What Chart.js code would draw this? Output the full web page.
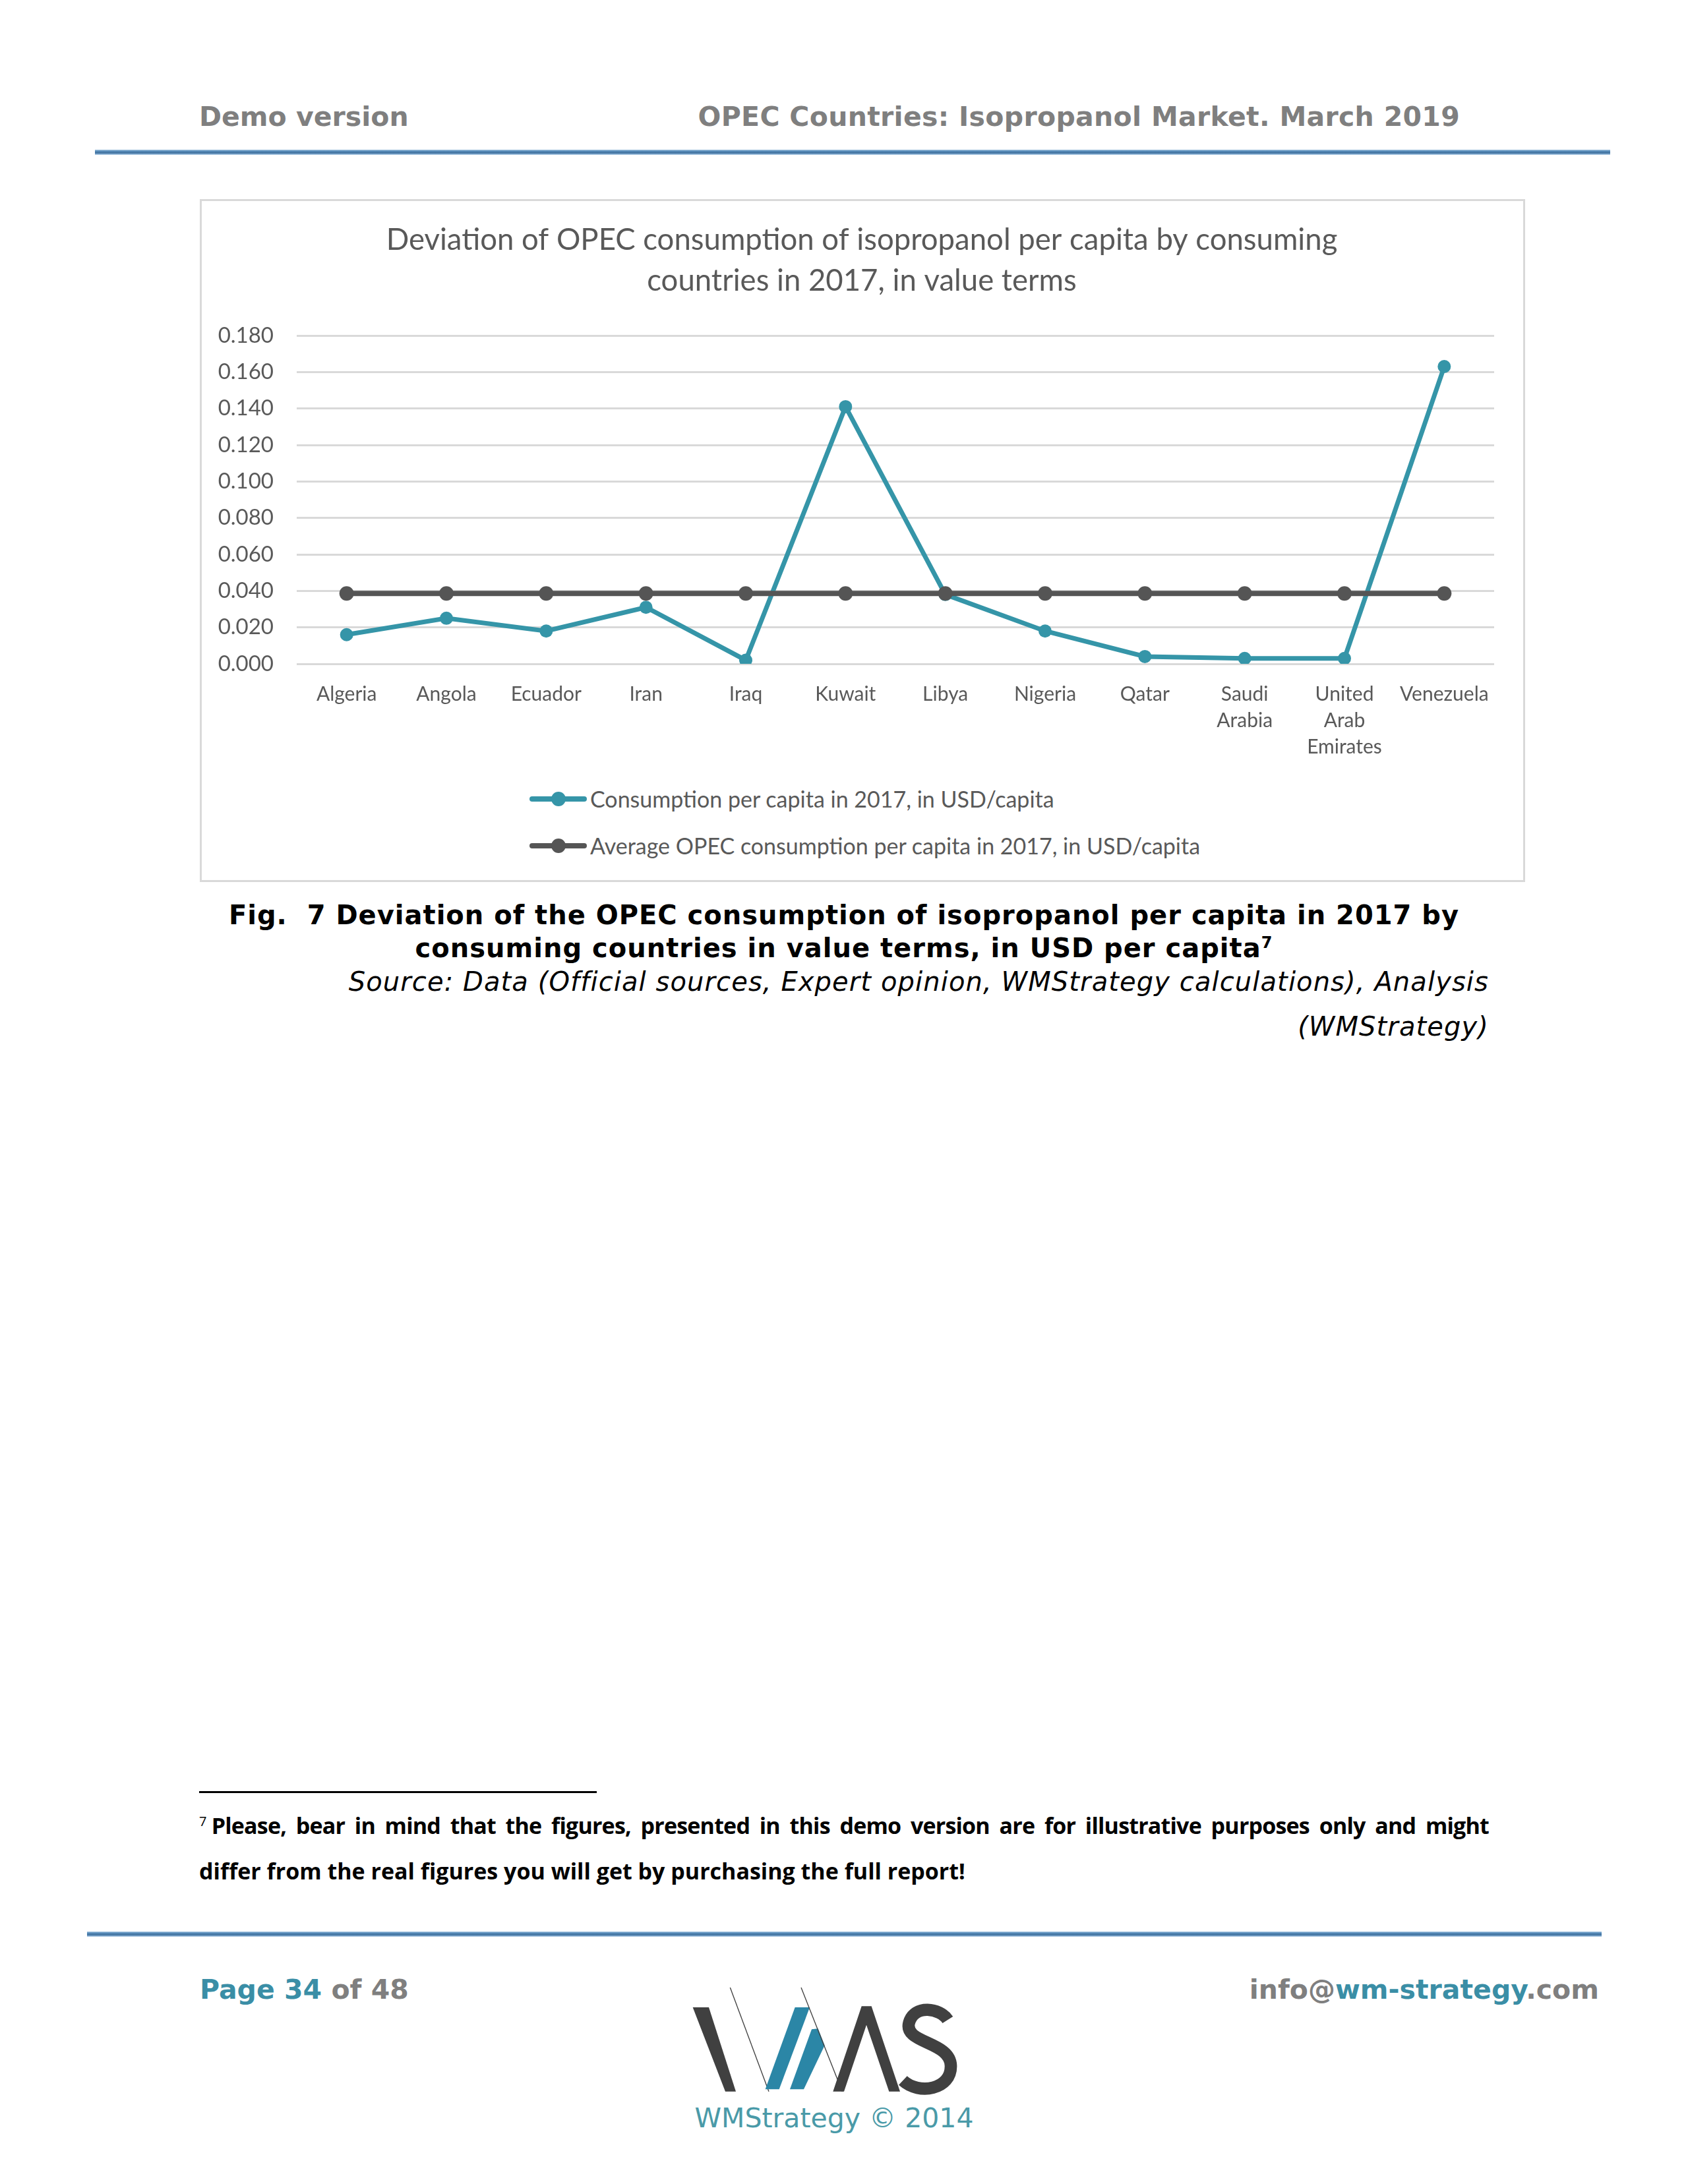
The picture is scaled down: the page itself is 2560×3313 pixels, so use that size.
<!DOCTYPE html>
<html lang="en">
<head>
    <meta charset="UTF-8">
    <title>OPEC Countries: Isopropanol Market - Fig. 7</title>
    <script src="https://cdn.jsdelivr.net/npm/chart.js"></script>
    <style>
        html, body { margin: 0; padding: 0; background: #fff; }
        body { width: 2560px; height: 3313px; position: relative; overflow: hidden; }
        .abs { position: absolute; white-space: nowrap; }
        .verdana { font-family: "DejaVu Sans", Verdana, sans-serif; }
        .rule { position: absolute; height: 8px;
            background: linear-gradient(to bottom, #b9d3e8 0%, #5a8fbd 25%, #3f709d 60%, #7fa9cf 85%, #d6e6f3 100%); }
        .hdr { top: 152px; line-height: 50px; font-size: 41px; font-weight: bold; color: #7f7f7f; }
        #chartBox { position: absolute; left: 303px; top: 302px; width: 2010px; height: 1036px;
            box-sizing: border-box; border: 3px solid #d9d9d9; }
        #chartCanvas { position: absolute; left: 306px; top: 305px; }
        #legend { position: absolute; left: 803px; top: 1176px; font-family: Lato, sans-serif;
            font-size: 34px; color: #595959; }
        #legend .row { display: flex; align-items: center; height: 71px; white-space: nowrap; }
        #legend .mark { position: relative; width: 87px; height: 22px; margin-right: 5px; }
        #legend .mark .ln { position: absolute; left: 0; top: 7px; width: 87px; height: 8px; border-radius: 4px; }
        #legend .mark .dot { position: absolute; left: 33px; top: 0; width: 22px; height: 22px; border-radius: 50%; }
        .cap { left: 0; width: 2560px; top: 1363px; line-height: 50px; text-align: center;
            font-size: 40px; letter-spacing: 1px; font-weight: bold; color: #000; }
        .cap sup { font-size: 24px; line-height: 0; }
        .src { right: 302px; top: 1455px; line-height: 68px; text-align: right; font-size: 40px;
            letter-spacing: 1.1px; font-style: italic; color: #000; }
        .note { left: 302px; width: 1956px; top: 2735px; line-height: 69px; font-family: "Open Sans", sans-serif;
            font-weight: bold; font-size: 34px; color: #000; white-space: normal; }
        .note .l1 { display: block; letter-spacing: -0.8px; text-align: justify; text-align-last: justify; }
        .note .l2 { display: block; }
        .note sup { font-size: 20px; line-height: 0; font-weight: normal; margin-right: 8px; }
        .foot { top: 2993px; line-height: 50px; font-size: 41px; font-weight: bold; color: #7f7f7f; }
        .teal { color: #3a8ea6; }
    </style>
</head>
<body>

<div class="abs verdana hdr" style="left:302px;">Demo version</div>
<div class="abs verdana hdr" style="right:346px; letter-spacing:0.3px;">OPEC Countries: Isopropanol Market. March 2019</div>
<div class="rule" style="left:144px; top:227px; width:2298px;"></div>

<div id="chartBox"></div>
<canvas id="chartCanvas" width="2004" height="852"></canvas>
<div id="legend"></div>

<div class="abs verdana cap">Fig.&nbsp; 7 Deviation of the OPEC consumption of isopropanol per capita in 2017 by<br>consuming countries in value terms, in USD per capita<sup>7</sup></div>
<div class="abs verdana src">Source: Data (Official sources, Expert opinion, WMStrategy calculations), Analysis<br>(WMStrategy)</div>

<div style="position:absolute; left:302px; top:2717px; width:603px; height:3px; background:#000;"></div>
<div class="abs note">
    <span class="l1"><sup>7</sup>Please, bear in mind that the figures, presented in this demo version are for illustrative purposes only and might</span>
    <span class="l2">differ from the real figures you will get by purchasing the full report!</span>
</div>

<div class="rule" style="left:132px; top:2930px; width:2297px;"></div>
<div class="abs verdana foot" style="left:303px;"><span class="teal">Page 34</span> of 48</div>
<div class="abs verdana foot" style="right:135px;">info@<span class="teal">wm-strategy</span>.com</div>

<svg style="position:absolute; left:1030px; top:2990px;" width="480" height="200" viewBox="0 0 1440 600">
    <polygon points="62,165 135,165 258,548 210,548" fill="#404040"/>
    <line x1="232" y1="75" x2="408" y2="548" stroke="#404040" stroke-width="4"/>
    <polygon points="527,165 594,165 455,538 392,538" fill="#2b86a6"/>
    <polygon points="603,265 632,262 662,338 567,538 504,538" fill="#2b86a6"/>
    <line x1="555" y1="75" x2="742" y2="548" stroke="#404040" stroke-width="4"/>
    <polygon points="700,548 830,160 875,160 1005,548 955,548 852,245 750,548" fill="#404040"/>
    <path d="M 1222,222 C 1188,168 1070,150 1046,235 C 1020,330 1232,318 1236,430 C 1240,540 1090,565 1018,498"
          fill="none" stroke="#404040" stroke-width="56"/>
</svg>
<div class="abs verdana" style="left:1015px; width:500px; text-align:center; top:3191px; line-height:44px; font-size:41px; color:#4a9aa8;">WMStrategy &copy; 2014</div>

<script>
    // chart data
    const countries = ["Algeria", "Angola", "Ecuador", "Iran", "Iraq", "Kuwait", "Libya", "Nigeria", "Qatar",
        ["Saudi", "Arabia"], ["United", "Arab", "Emirates"], "Venezuela"];
    const consumptionPerCapita = [0.016, 0.025, 0.018, 0.031, 0.002, 0.141, 0.038, 0.018, 0.004, 0.003, 0.003, 0.163];
    const opecAverage = [0.0386, 0.0386, 0.0386, 0.0386, 0.0386, 0.0386, 0.0386, 0.0386, 0.0386, 0.0386, 0.0386, 0.0386];
    const seriesNames = ["Consumption per capita in 2017, in USD/capita",
        "Average OPEC consumption per capita in 2017, in USD/capita"];
    const chartTitle = ["Deviation of OPEC consumption of isopropanol per capita by consuming",
        "countries in 2017, in value terms"];
    const yMin = 0, yMax = 0.18, yStep = 0.02;

    const tealColor = "#3595a8";
    const greyColor = "#555555";
    const textColor = "#595959";

    function buildLegend(chart) {
        const box = document.getElementById("legend");
        box.innerHTML = "";
        chart.data.datasets.forEach(ds => {
            const row = document.createElement("div");
            row.className = "row";
            row.innerHTML = '<div class="mark"><div class="ln" style="background:' + ds.borderColor +
                '"></div><div class="dot" style="background:' + ds.borderColor + '"></div></div>';
            const label = document.createElement("span");
            label.textContent = ds.label;
            row.appendChild(label);
            box.appendChild(row);
        });
    }

    const ctx = document.getElementById("chartCanvas").getContext("2d");
    const chart = new Chart(ctx, {
        type: "line",
        data: {
            labels: countries,
            datasets: [{
                label: seriesNames[0],
                data: consumptionPerCapita,
                borderColor: tealColor,
                backgroundColor: tealColor,
                pointBackgroundColor: tealColor,
                borderWidth: 7,
                pointRadius: 10,
                pointBorderWidth: 0,
                order: 2
            }, {
                label: seriesNames[1],
                data: opecAverage,
                borderColor: greyColor,
                backgroundColor: greyColor,
                pointBackgroundColor: greyColor,
                borderWidth: 8,
                pointRadius: 11,
                pointBorderWidth: 0,
                order: 1
            }]
        },
        options: {
            responsive: false,
            animation: false,
            layout: { padding: { left: 20, right: 22, top: 0, bottom: 0 } },
            plugins: {
                legend: { display: false },
                tooltip: { enabled: false },
                title: {
                    display: true,
                    text: chartTitle,
                    color: textColor,
                    font: { family: "Lato", size: 45.5, weight: "normal", lineHeight: 62 / 45.5 },
                    padding: { top: 28, bottom: 52 }
                }
            },
            scales: {
                x: {
                    offset: true,
                    grid: { display: false },
                    border: { display: false },
                    ticks: {
                        color: textColor,
                        font: { family: "Lato", size: 30, lineHeight: 40 / 30 },
                        padding: 18,
                        maxRotation: 0,
                        autoSkip: false
                    },
                    afterFit: scale => { scale.height = 150; }
                },
                y: {
                    min: yMin,
                    max: yMax,
                    grid: { color: "#d9d9d9", lineWidth: 3, drawTicks: false },
                    border: { display: false },
                    ticks: {
                        stepSize: yStep,
                        color: textColor,
                        font: { family: "Lato", size: 33 },
                        padding: 35,
                        callback: v => v.toFixed(3)
                    },
                    afterFit: scale => { scale.width = 124; }
                },
                // empty right-hand gutter so the title centres on the whole chart box
                yRight: {
                    position: "right",
                    grid: { display: false },
                    border: { display: false },
                    ticks: { display: false },
                    afterFit: scale => { scale.width = 22; }
                }
            }
        }
    });

    buildLegend(chart);
</script>
</body>
</html>
